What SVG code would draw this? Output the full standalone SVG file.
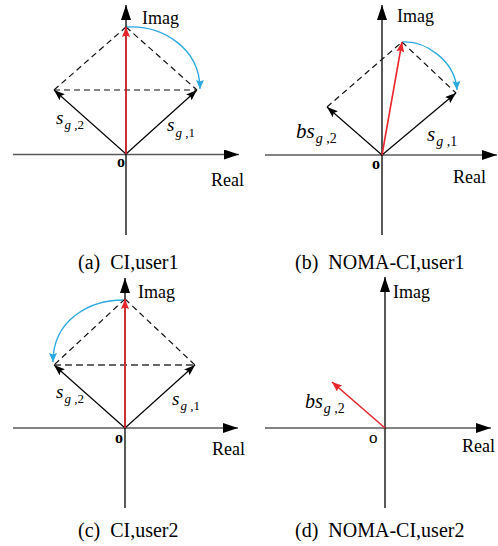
<svg xmlns="http://www.w3.org/2000/svg" width="498" height="546" viewBox="0 0 498 546">
<style>
text{font-family:"Liberation Serif","Times New Roman",serif;fill:#000}
.lbl{font-size:18px}
.cap{font-size:20px}
.o{font-size:16px;font-weight:bold}
.it{font-style:italic}
.xa{stroke:#5a5a5a;stroke-width:1.6;fill:none;marker-end:url(#axh)}
.ya{stroke:#000;stroke-width:1.3;fill:none;marker-end:url(#axh)}
.vec{stroke:#000;stroke-width:1.2;fill:none;marker-end:url(#vh)}
.red{stroke:#e8262b;stroke-width:1.6;fill:none;marker-end:url(#rh)}
.dash{stroke:#111;stroke-width:1.2;stroke-dasharray:6 4;fill:none}
.dashg{stroke:#666;stroke-width:2;stroke-dasharray:7 4;fill:none}
.arc{stroke:#2aa8e0;stroke-width:1.3;fill:none;marker-end:url(#bh)}
</style>
<defs>
<marker id="axh" markerUnits="userSpaceOnUse" viewBox="0 0 15 10" refX="15" refY="5" markerWidth="15" markerHeight="10" orient="auto"><path d="M0,0 L15,5 L0,10 Z" fill="#000"/></marker>
<marker id="vh" markerUnits="userSpaceOnUse" viewBox="0 0 11 8" refX="11" refY="4" markerWidth="11" markerHeight="8" orient="auto"><path d="M0,0 L11,4 L0,8 L2,4 Z" fill="#000"/></marker>
<marker id="rh" markerUnits="userSpaceOnUse" viewBox="0 0 10 8" refX="10" refY="4" markerWidth="10" markerHeight="8" orient="auto"><path d="M0,0 L10,4 L0,8 L1.5,4 Z" fill="#e8262b"/></marker>
<marker id="bh" markerUnits="userSpaceOnUse" viewBox="0 0 9 8" refX="9" refY="4" markerWidth="9" markerHeight="8" orient="auto"><path d="M0,0 L9,4 L0,8 L1.5,4 Z" fill="#2aa8e0"/></marker>
</defs>

<g id="panel-a">
<g id="connectors-a">
<line class="xa" x1="13" y1="154.5" x2="239" y2="154.5"/>
<line class="ya" x1="126" y1="235" x2="126" y2="5"/>
<line class="dash" x1="54" y1="90" x2="197" y2="90"/>
<line class="dash" x1="54" y1="90" x2="126" y2="27"/>
<line class="dash" x1="126" y1="27" x2="197" y2="90"/>
<line class="vec" x1="126" y1="154" x2="197" y2="90"/>
<line class="vec" x1="126" y1="154" x2="54" y2="90"/>
<line class="red" x1="126" y1="154" x2="126" y2="27"/>
<path class="arc" d="M127,27 C162,25 200,48 200,89"/>
</g>
<text class="lbl" x="142" y="24">Imag</text>
<text class="lbl" x="211" y="186">Real</text>
<text class="o" x="117" y="167">o</text>
<text x="56" y="124"><tspan class="it" font-size="19">s</tspan><tspan font-size="13" dx="1" dy="5"><tspan class="it">g</tspan> ,2</tspan></text>
<text x="167" y="131"><tspan class="it" font-size="19">s</tspan><tspan font-size="13" dx="1" dy="6"><tspan class="it">g</tspan> ,1</tspan></text>
<text class="cap" x="78" y="269" xml:space="preserve">(a)  CI,user1</text>
</g>

<g id="panel-b">
<g id="connectors-b">
<line class="xa" x1="265" y1="155" x2="497" y2="155"/>
<line class="ya" x1="382" y1="235" x2="382" y2="5"/>
<line class="dash" x1="327" y1="107" x2="402" y2="42"/>
<line class="dash" x1="402" y1="42" x2="456" y2="93"/>
<line class="vec" x1="382" y1="155" x2="456" y2="93"/>
<line class="vec" x1="382" y1="155" x2="327" y2="107"/>
<line class="red" x1="382" y1="155" x2="402" y2="42"/>
<path class="arc" d="M403,42 C425,41 455,60 457,90"/>
</g>
<text class="lbl" x="397" y="22">Imag</text>
<text class="lbl" x="453" y="183">Real</text>
<text class="o" x="372" y="169">o</text>
<text x="296" y="138"><tspan class="it" font-size="21">bs</tspan><tspan font-size="14" dx="1" dy="5"><tspan class="it">g</tspan> ,2</tspan></text>
<text x="427" y="141"><tspan class="it" font-size="21">s</tspan><tspan font-size="14" dx="1" dy="5"><tspan class="it">g</tspan> ,1</tspan></text>
<text class="cap" x="295" y="269" xml:space="preserve">(b)  NOMA-CI,user1</text>
</g>

<g id="panel-c">
<g id="connectors-c">
<line class="xa" x1="13" y1="428" x2="238" y2="428"/>
<line class="ya" x1="125" y1="508" x2="125" y2="278"/>
<line class="dashg" x1="54" y1="365" x2="195" y2="365"/>
<line class="dash" x1="125" y1="299" x2="195" y2="365"/>
<line class="dash" x1="125" y1="299" x2="54" y2="365"/>
<line class="vec" x1="125" y1="428" x2="195" y2="365"/>
<line class="vec" x1="125" y1="428" x2="54" y2="365"/>
<line class="red" x1="125" y1="428" x2="125" y2="299"/>
<path class="arc" d="M123,300 C92,300 53,318 53,362"/>
</g>
<text class="lbl" x="138" y="298">Imag</text>
<text class="lbl" x="212" y="455">Real</text>
<text class="o" x="115" y="443">o</text>
<text x="56" y="398"><tspan class="it" font-size="19">s</tspan><tspan font-size="13" dx="1" dy="5"><tspan class="it">g</tspan> ,2</tspan></text>
<text x="172" y="405"><tspan class="it" font-size="19">s</tspan><tspan font-size="13" dx="1" dy="5"><tspan class="it">g</tspan> ,1</tspan></text>
<text class="cap" x="78" y="537" xml:space="preserve">(c)  CI,user2</text>
</g>

<g id="panel-d">
<g id="connectors-d">
<line class="xa" x1="265" y1="428" x2="491" y2="428"/>
<line class="ya" x1="385" y1="508" x2="385" y2="277"/>
<line class="red" x1="385" y1="428" x2="332" y2="382"/>
</g>
<text class="lbl" x="393" y="298">Imag</text>
<text class="lbl" x="462" y="452">Real</text>
<text x="369" y="443" font-size="17">o</text>
<text x="305" y="408"><tspan class="it" font-size="20">bs</tspan><tspan font-size="14" dx="1" dy="5"><tspan class="it">g</tspan> ,2</tspan></text>
<text class="cap" x="295" y="537" xml:space="preserve">(d)  NOMA-CI,user2</text>
</g>
</svg>
